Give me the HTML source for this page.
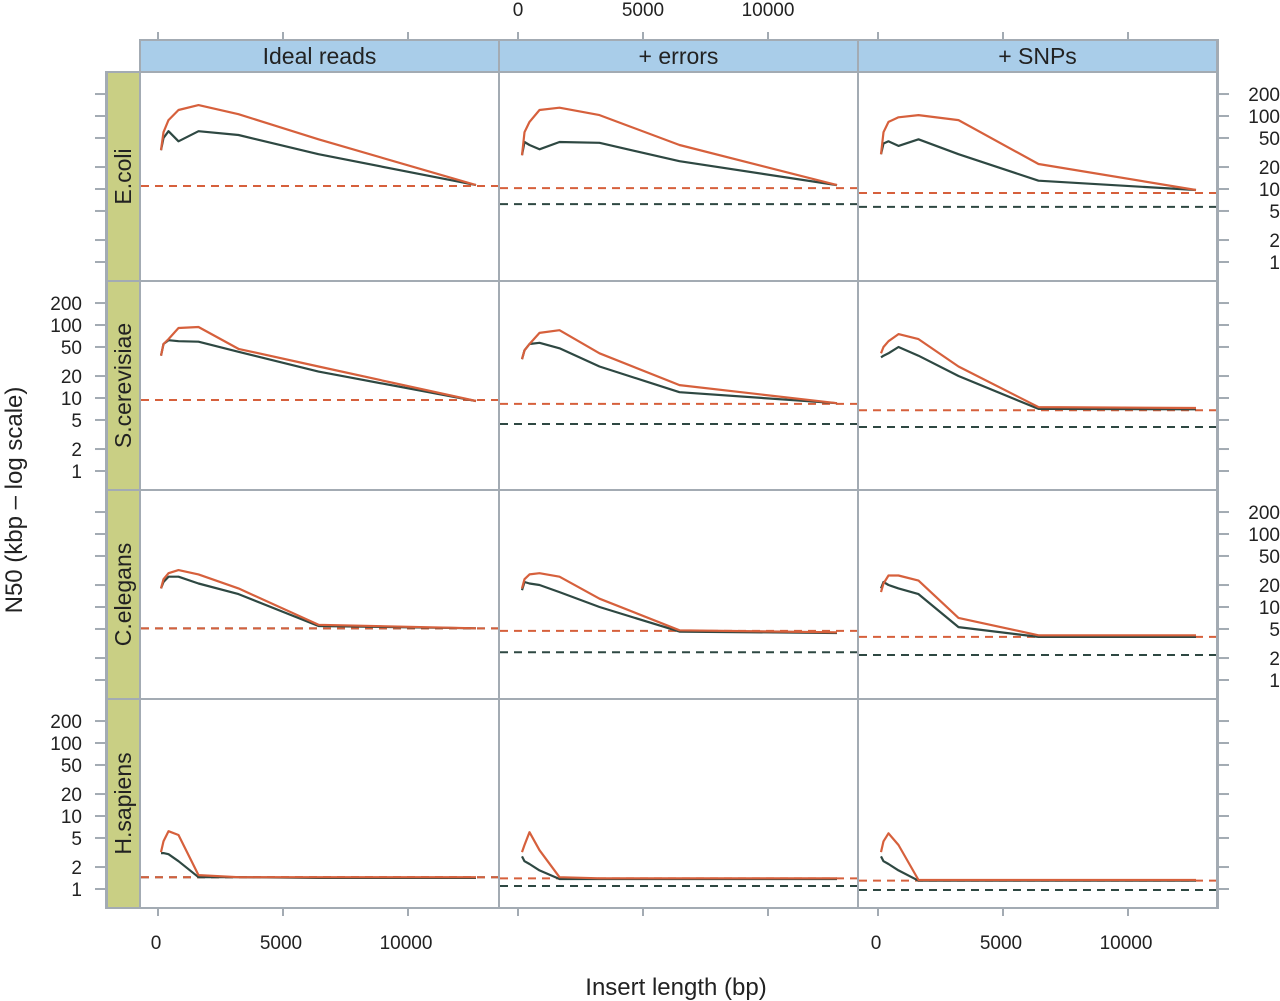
<!DOCTYPE html>
<html><head><meta charset="utf-8"><style>
body{margin:0;background:#fff;}
svg{display:block;font-family:"Liberation Sans",sans-serif;}
</style></head><body>
<svg id="chart" width="1280" height="1001" viewBox="0 0 1280 1001"></svg>
<script>
const insertLengths = [200, 300, 500, 900, 1700, 3300, 6500, 12800];
const rowNames = ["E.coli", "S.cerevisiae", "C.elegans", "H.sapiens"];
const colNames = ["Ideal reads", "+ errors", "+ SNPs"];
const xTicks = [0, 5000, 10000];
const yTicks = [1, 2, 5, 10, 20, 50, 100, 200];
// red (upper) series values [row][col]
const redSeries = [
 [[34,60,88,121,141,106,48,11.3],[29,60,83,121,130,103,40,11.3],[30,60,83,96,103,88,22,9.7]],
 [[38,55,64,91,94,47,27,9.1],[34,45,55,78,85,41,15,8.5],[41,50,60,75,64,27,7.5,7.3]],
 [[18,24,29,32,28,18,5.7,5.1],[18,24,28,29,26,13,4.8,4.5],[16,21,27,27,23,7.1,4.1,4.1]],
 [[3.2,4.5,6.2,5.5,1.55,1.45,1.45,1.45],[3.2,4.0,6.0,3.4,1.45,1.4,1.4,1.4],[3.2,4.5,5.8,4.0,1.33,1.33,1.33,1.33]]
];
// dark series values [row][col]
const darkSeries = [
 [[34,50,62,45,62,55,30,11.3],[29,44,40,35,44,43,24,11.3],[30,42,45,39,48,30,13,9.7]],
 [[38,55,62,60,59,43,23,9.1],[34,45,55,57,48,27,12,8.5],[36,38,41,50,38,20,7.1,7.0]],
 [[18,22,26,26,21,15,5.5,5.1],[17,22,21,20,16,10,4.6,4.4],[18,22,20,18,15,5.3,3.9,3.9]],
 [[3.1,3.1,3.0,2.4,1.45,1.45,1.42,1.42],[2.8,2.4,2.2,1.8,1.37,1.37,1.37,1.37],[2.8,2.4,2.2,1.8,1.3,1.3,1.3,1.3]]
];
const redBaseline = [[11,10.3,8.8],[9.4,8.3,6.8],[5.1,4.7,3.9],[1.45,1.4,1.3]];
const darkBaseline = [[11,6.2,5.7],[9.4,4.4,4.0],[5.1,2.4,2.2],[1.45,1.1,0.97]];

const NS = "http://www.w3.org/2000/svg";
const svg = document.getElementById("chart");
function mk(tag, attrs, parent){const e=document.createElementNS(NS,tag);for(const k in attrs)e.setAttribute(k,attrs[k]);(parent||svg).appendChild(e);return e;}
const colX = [140, 499, 858], colW = 359;
const colZero = [156, 517, 876];
const rowY = [72, 281, 490, 699], rowH = 209;
const RED = "#d6603c", DARK = "#2e4842", GRID = "#a3abb3";
function xScale(c, v){return colZero[c] + v * 0.025;}
function yScale(r, v){return rowY[r] + 190 - 73 * Math.log10(v);}

// strips
for (let c=0;c<3;c++){
  const s = mk("rect",{x:colX[c],y:40,width:colW,height:32,fill:"#a9cde9",stroke:GRID,"stroke-width":2});
  
  
  const t = mk("text",{x:colX[c]+colW/2,y:64,"text-anchor":"middle","font-size":23,fill:"#222"});
  t.textContent = colNames[c];
  
  
}
for (let r=0;r<4;r++){
  const s = mk("rect",{x:107,y:rowY[r],width:33,height:rowH,fill:"#c9cf84",stroke:GRID,"stroke-width":2});
  
  
  const cx=131, cy=rowY[r]+rowH/2;
  const t = mk("text",{x:cx,y:cy,"text-anchor":"middle","font-size":23,fill:"#222",transform:`rotate(-90 ${cx} ${cy})`});
  t.textContent = rowNames[r];
  
  
}
// panels
for (let r=0;r<4;r++) for (let c=0;c<3;c++){
  const p = mk("rect",{x:colX[c],y:rowY[r],width:colW,height:rowH,fill:"#fff",stroke:GRID,"stroke-width":2});
  
  
}
// baselines + series
for (let r=0;r<4;r++) for (let c=0;c<3;c++){
  const x1=colX[c]+1, x2=colX[c]+colW-1;
  const db = mk("line",{x1:x1,x2:x2,y1:yScale(r,darkBaseline[r][c]),y2:yScale(r,darkBaseline[r][c]),stroke:DARK,"stroke-width":2,"stroke-dasharray":"8 6"});
  
  
  const rb = mk("line",{x1:x1,x2:x2,y1:yScale(r,redBaseline[r][c]),y2:yScale(r,redBaseline[r][c]),stroke:RED,"stroke-width":2,"stroke-dasharray":"8 6"});
  
  
  const dpts = insertLengths.map((x,i)=>xScale(c,x).toFixed(1)+","+yScale(r,darkSeries[r][c][i]).toFixed(1)).join(" ");
  const dl = mk("polyline",{points:dpts,fill:"none",stroke:DARK,"stroke-width":2.2,"stroke-linejoin":"round"});
  
  
  const rpts = insertLengths.map((x,i)=>xScale(c,x).toFixed(1)+","+yScale(r,redSeries[r][c][i]).toFixed(1)).join(" ");
  const rl = mk("polyline",{points:rpts,fill:"none",stroke:RED,"stroke-width":2.2,"stroke-linejoin":"round"});
  
  
}
// x axes
for (let c=0;c<3;c++){
  xTicks.forEach(v=>{
    const x = xScale(c,v)+ (c===1?1:2);
    const tt = mk("line",{x1:x,x2:x,y1:32,y2:40,stroke:GRID,"stroke-width":2});
    
    
    const bt = mk("line",{x1:x,x2:x,y1:908,y2:916,stroke:GRID,"stroke-width":2});
    
    
    if (c===1){
      const t = mk("text",{x:x,y:16,"text-anchor":"middle","font-size":19,fill:"#222"});
      t.textContent = v;
      
      
    } else {
      const t = mk("text",{x:x-2,y:949,"text-anchor":"middle","font-size":19,fill:"#222"});
      t.textContent = v;
      
      
    }
  });
}
// y axes
for (let r=0;r<4;r++){
  yTicks.forEach(v=>{
    const y = yScale(r,v);
    const lt = mk("line",{x1:95,x2:106,y1:y,y2:y,stroke:GRID,"stroke-width":2});
    
    
    const rt = mk("line",{x1:1218,x2:1229,y1:y,y2:y,stroke:GRID,"stroke-width":2});
    
    
    if (r%2===1){
      const t = mk("text",{x:82,y:y+7,"text-anchor":"end","font-size":19,fill:"#222"});
      t.textContent = v;
      
      
    } else {
      const t = mk("text",{x:1280,y:y+7,"text-anchor":"end","font-size":19,fill:"#222"});
      t.textContent = v;
      
      
    }
  });
}
// outer frame (open top-left corner)
const fr = mk("path",{d:"M140 40 H1218 V908 H106 V72 H140 Z",fill:"none",stroke:GRID,"stroke-width":2});


// titles
const xt = mk("text",{x:676,y:995,"text-anchor":"middle","font-size":24,fill:"#222"});
xt.textContent = "Insert length (bp)";


const yt = mk("text",{x:22,y:500,"text-anchor":"middle","font-size":24,fill:"#222",transform:"rotate(-90 22 500)"});
yt.textContent = "N50 (kbp \u2013 log scale)";


</script>
</body></html>
